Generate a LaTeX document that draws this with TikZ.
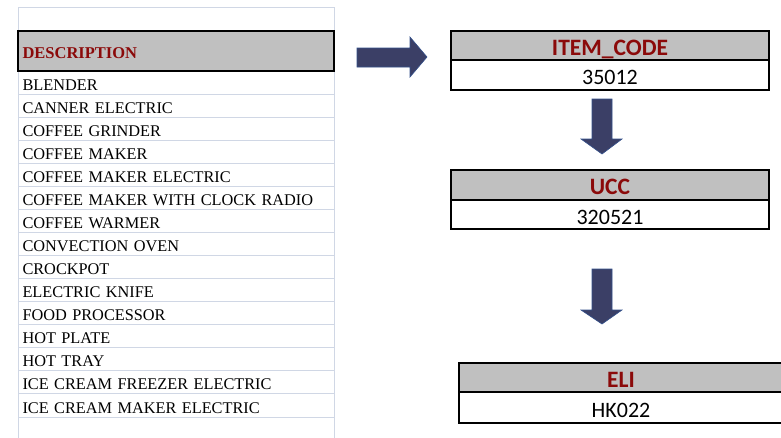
\documentclass[tikz,border=0pt]{standalone}
\usepackage{fontspec}
\setmainfont{Liberation Serif}
\newfontfamily\calibrifont{Carlito}
\usetikzlibrary{positioning}
\definecolor{xgrid}{HTML}{D0D7E5}
\definecolor{xhead}{HTML}{C0C0C0}
\definecolor{xred}{HTML}{8B0A0A}
\definecolor{xnavy}{HTML}{3B3F66}
\definecolor{xedge}{HTML}{34508A}

\tikzset{
  cell/.style={draw=xgrid,line width=1pt,outer sep=0pt,minimum width=316pt,minimum height=23.07pt,
    inner xsep=4.5pt,inner ysep=0pt,text height=17pt,text depth=2pt,text width=307pt,align=left,
    anchor=north west,font=\fontsize{16.3}{18}\selectfont},
  deschead/.style={cell,draw=black,line width=1.8pt,fill=xhead,minimum height=40pt,text=xred,
    font=\fontsize{16.5}{18}\selectfont\bfseries},
  keyhead/.style={draw=black,line width=1.8pt,outer sep=0pt,fill=xhead,minimum height=29pt,inner sep=0pt,
    text height=19.5pt,text depth=0pt,text=xred,font=\calibrifont\fontsize{23.5}{25}\selectfont\bfseries},
  keyval/.style={keyhead,fill=white,text=black,font=\calibrifont\fontsize{22}{24}\selectfont},
  blockarrow/.style={fill=xnavy,draw=xedge,line width=0.6pt,line join=miter}
}

\begin{document}
\begin{tikzpicture}[x=1pt,y=-1pt]
  \useasboundingbox (0,0) rectangle (781,437);

  % spreadsheet column
  \node[cell,minimum height=24pt] (blank) at (18,7) {};
  \foreach \item [count=\i] in {BLENDER,CANNER ELECTRIC,COFFEE GRINDER,COFFEE MAKER,
      COFFEE MAKER ELECTRIC,COFFEE MAKER WITH CLOCK RADIO,COFFEE WARMER,CONVECTION OVEN,
      CROCKPOT,ELECTRIC KNIFE,FOOD PROCESSOR,HOT PLATE,HOT TRAY,
      ICE CREAM FREEZER ELECTRIC,ICE CREAM MAKER ELECTRIC}
    \node[cell] (row\i) at (18,{71+23.07*(\i-1)}) {\item};
  \draw[xgrid,line width=1pt] (row15.south west) -- ++(0,25);
  \draw[xgrid,line width=1pt] (row15.south east) -- ++(0,25);
  \node[deschead] (desc) at (18,31) {DESCRIPTION};

  % key boxes
  \node[keyhead,minimum width=318pt,anchor=north west] (itemhead) at (451,31) {ITEM\_CODE};
  \node[keyval,minimum width=318pt,minimum height=30pt,anchor=north] (itemval) at (itemhead.south) {35012};
  \node[keyhead,minimum width=318pt,minimum height=30pt,anchor=north west] (ucchead) at (451,170) {UCC};
  \node[keyval,minimum width=318pt,anchor=north] (uccval) at (ucchead.south) {320521};
  \node[keyhead,minimum width=324pt,anchor=north west] (elihead) at (459,363) {ELI};
  \node[keyval,minimum width=324pt,minimum height=31pt,anchor=north] (elival) at (elihead.south) {HK022};

  % block arrows
  \draw[blockarrow] (357,48) -- (410,48) -- (410,37) -- (427,57) -- (410,77) -- (410,67) -- (357,67) -- cycle;
  \draw[blockarrow] (592,99) -- (612,99) -- (612,139) -- (622,139) -- (602,154) -- (581,139) -- (592,139) -- cycle;
  \draw[blockarrow] (592,269) -- (612,269) -- (612,310) -- (622,310) -- (602,324) -- (581,310) -- (592,310) -- cycle;
\end{tikzpicture}
\end{document}
